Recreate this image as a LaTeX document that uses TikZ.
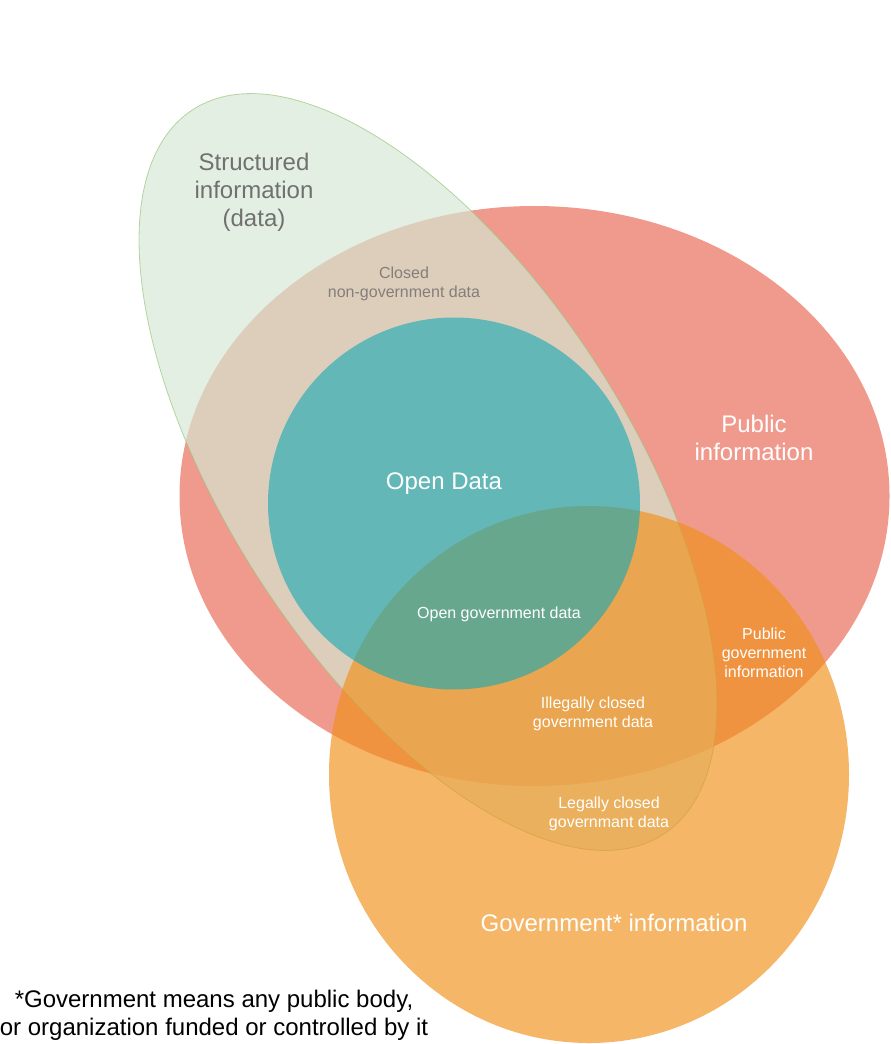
\documentclass[tikz,border=0pt]{standalone}
\usepackage{fontspec}
\setmainfont{Liberation Sans}
\definecolor{pubred}{RGB}{234,111,92}
\definecolor{strucgreen}{RGB}{213,232,212}
\definecolor{strucline}{RGB}{150,196,122}
\definecolor{govorange}{RGB}{240,143,23}
\definecolor{openteal}{RGB}{28,169,178}
\definecolor{labelgray}{RGB}{112,112,112}
\definecolor{closedgray}{RGB}{132,126,122}
\begin{document}
\begin{tikzpicture}[x=.75pt, y=-.75pt, line join=round, line cap=round,
    big/.style={align=center, text=white, font=\fontsize{18}{21}\selectfont},
    small/.style={align=center, text=white, font=\fontsize{12}{14.25}\selectfont}]
    \useasboundingbox (0,0) rectangle (890,1044);
    \fill[pubred, opacity=.7] (534.5,496) ellipse [x radius=355, y radius=290];
    \draw[strucline, fill=strucgreen, opacity=.68, line width=.6pt, shift={(428,472)}, rotate=-57] (0,0) ellipse [x radius=432, y radius=200];
    \fill[govorange, opacity=.65] (589,774.5) ellipse [x radius=260, y radius=268.5];
    \fill[openteal, opacity=.63] (454,503.5) circle [radius=186];
    \node (struct) at (254,192) [big, text=labelgray]{Structured\\information\\(data)};
    \node (closed) at (404,284) [small, text=closedgray]{Closed\\non-government data};
    \node (open) at (444,484) [big]{Open Data};
    \node (public) at (754,438) [big]{Public\\information};
    \node (ogd) at (499,614) [small]{Open government data};
    \node (pgi) at (764,653) [small]{Public\\government\\information};
    \node (illegal) at (593,714) [small]{Illegally closed\\government data};
    \node (legal) at (609,814) [small]{Legally closed\\governmant data};
    \node (gov) at (614,923) [big]{Government* information};
    \node (note) at (214,1015) [big, text=black]{*Government means any public body,\\or organization funded or controlled by it};
\end{tikzpicture}
\end{document}
